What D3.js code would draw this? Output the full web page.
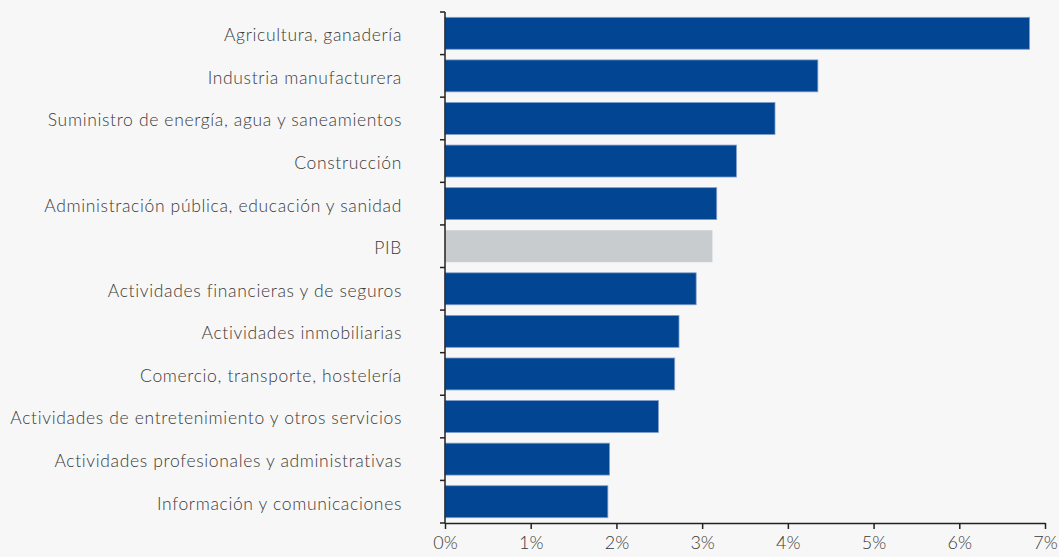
<!DOCTYPE html>
<html><head><meta charset="utf-8">
<script src="https://cdn.jsdelivr.net/npm/d3@7"></script>
<style>
html,body{margin:0;padding:0;background:#f7f7f7;}
svg{display:block;}
text{font-family:"Lato","Open Sans",sans-serif;font-weight:300;fill:#3a3a3a;}
</style></head>
<body>
<svg id="c" width="1059" height="557"></svg>
<script>
const categories = [
  "Agricultura, ganadería",
  "Industria manufacturera",
  "Suministro de energía, agua y saneamientos",
  "Construcción",
  "Administración pública, educación y sanidad",
  "PIB",
  "Actividades financieras y de seguros",
  "Actividades inmobiliarias",
  "Comercio, transporte, hostelería",
  "Actividades de entretenimiento y otros servicios",
  "Actividades profesionales y administrativas",
  "Información y comunicaciones"
];
const values = [6.82, 4.35, 3.85, 3.40, 3.17, 3.12, 2.93, 2.73, 2.68, 2.49, 1.92, 1.90];
const highlight = ["PIB"];
const xTicks = [0,1,2,3,4,5,6,7];
const xTickLabels = ["0%","1%","2%","3%","4%","5%","6%","7%"];

const svg = d3.select("#c");
const x0 = 445, x1 = 1045, yTop = 12, yBot = 523;
const x = d3.scaleLinear().domain([0,7]).range([x0,x1]);
const y = d3.scaleBand().domain(categories).range([yTop,yBot]).paddingInner(0.25).paddingOuter(0.125);

svg.selectAll("rect.bar").data(categories).join("rect")
  .attr("class","bar")
  .attr("x", x(0))
  .attr("y", d => y(d))
  .attr("width", (d,i) => x(values[i]) - x(0))
  .attr("height", y.bandwidth())
  .attr("fill", d => highlight.includes(d) ? "#c9cccf" : "#014593")
  .attr("stroke", d => highlight.includes(d) ? "none" : "#7f9fcc")
  .attr("stroke-width", 0.8);

const step = y.step();
const bounds = d3.range(categories.length + 1).map(i => yTop + i*step);
svg.append("line").attr("x1",x0).attr("x2",x0).attr("y1",yTop).attr("y2",yBot)
  .attr("stroke","#222").attr("stroke-width",1.5);
svg.selectAll("line.yt").data(bounds).join("line").attr("class","yt")
  .attr("x1",x0-5).attr("x2",x0).attr("y1",d=>d).attr("y2",d=>d)
  .attr("stroke","#222").attr("stroke-width",1.5);

svg.selectAll("text.cat").data(categories).join("text").attr("class","cat")
  .attr("x", 402).attr("y", d => y(d) + y.bandwidth()/2)
  .attr("dy","0.45em").attr("text-anchor","end")
  .attr("font-size", 17.5).attr("letter-spacing","0.65px").text(d => d);

const xAxis = d3.axisBottom(x).tickValues(xTicks).tickFormat((d,i)=>xTickLabels[i]).tickSize(6).tickSizeOuter(0);
const gx = svg.append("g").attr("transform",`translate(0,${yBot})`).call(xAxis);
gx.select(".domain").attr("stroke","#222").attr("stroke-width",1.5);
gx.selectAll(".tick line").attr("stroke","#222").attr("stroke-width",1.5);
gx.selectAll(".tick text").attr("font-size",18).attr("dy","0.95em").attr("fill","#3a3a3a")
  .style("font-family","Lato, 'Open Sans', sans-serif").style("font-weight",300);
</script>
</body></html>
